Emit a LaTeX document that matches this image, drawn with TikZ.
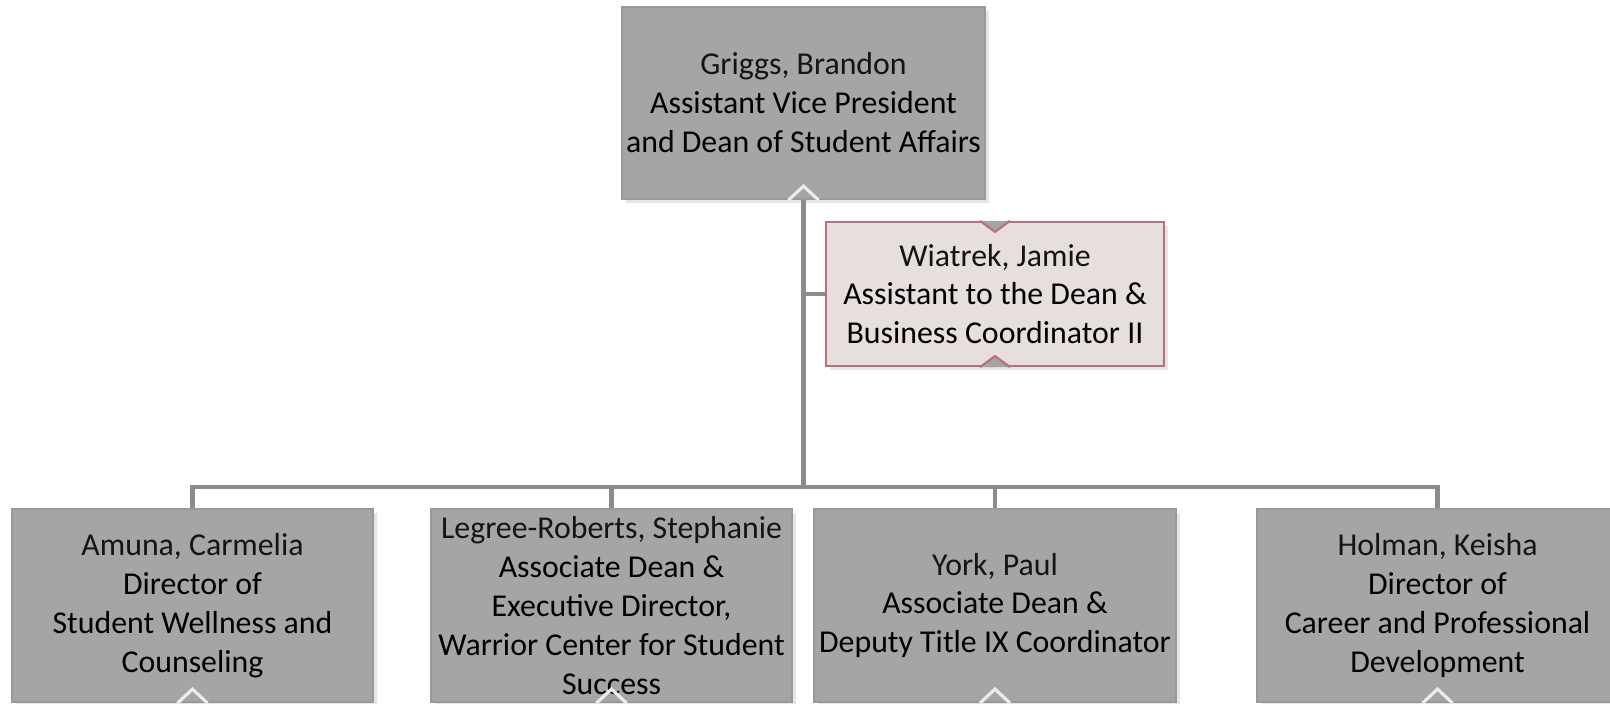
\documentclass[tikz,border=0pt]{standalone}
\usepackage{fontspec}
\setmainfont{Carlito}
\usetikzlibrary{shadows}
\definecolor{boxgray}{HTML}{A5A5A5}
\definecolor{boxedge}{HTML}{999999}
\definecolor{linegray}{HTML}{8C8C8C}
\definecolor{assistfill}{HTML}{E7DEDE}
\definecolor{assistedge}{HTML}{B9707C}
\tikzset{>=latex}
\tikzset{
  person/.style={draw=boxedge,fill=boxgray,line width=0.6pt,align=center,
    minimum width=3.61cm,minimum height=1.93cm,inner sep=0pt,
    font=\fontsize{9.05}{11.07}\selectfont,
    drop shadow={opacity=0.2,shadow xshift=0.4mm,shadow yshift=-0.4mm}},
  assistant/.style={person,draw=assistedge,fill=assistfill,
    minimum width=3.38cm,minimum height=1.44cm},
  link/.style={draw=linegray,line width=1.25pt},
}
\tikzset{
  chevron/.pic={
    \draw[white!85!gray,line width=0.9pt] (-15,0) -- (0,14) -- (15,0);
  },
  tab/.pic={
    \filldraw[fill=boxgray,draw=assistedge,line width=0.6pt] (-15,0) -- (0,-11) -- (15,0);
  },
}
\newcommand\who[1]{{\color{black!92}#1}}

\begin{document}
\begin{tikzpicture}[x=0.01cm,y=0.01cm]
  \useasboundingbox (0,0) rectangle (1610,703);
  % top
  \node[person,minimum height=1.92cm,minimum width=3.63cm] (griggs) at (803.5,600)
    {\who{Griggs, Brandon}\\Assistant Vice President\\and Dean of Student Affairs};
  \node[assistant] (wiatrek) at (995,409)
    {\who{Wiatrek, Jamie}\\Assistant to the Dean \&\\Business Coordinator II};
  % direct reports
  \node[person] (amuna) at (192.5,97.5)
    {\who{Amuna, Carmelia}\\Director of\\Student Wellness and\\Counseling};
  \node[person] (legree) at (611.5,97.5)
    {\who{Legree-Roberts, Stephanie}\\Associate Dean \&\\Executive Director,\\Warrior Center for Student\\Success};
  \node[person] (york) at (995,97.5)
    {\who{York, Paul}\\Associate Dean \&\\Deputy Title IX Coordinator};
  \node[person] (holman) at (1437.5,97.5)
    {\who{Holman, Keisha}\\Director of\\Career and Professional\\Development};
  \coordinate (bus) at (803.5,216);
  % connectors
  \draw[link] (griggs.south) -- (bus);
  \draw[link] (griggs.south |- wiatrek.west) -- (wiatrek.west);
  \foreach \n in {amuna,legree,york,holman}
    \draw[link] (bus) -| (\n.north);
  % notches
  \pic at (griggs.south) {chevron};
  \foreach \n in {amuna,legree,york,holman}
    \pic at (\n.south) {chevron};
  \pic at (wiatrek.north) {tab};
  \pic[rotate=180] at (wiatrek.south) {tab};
\end{tikzpicture}
\end{document}
